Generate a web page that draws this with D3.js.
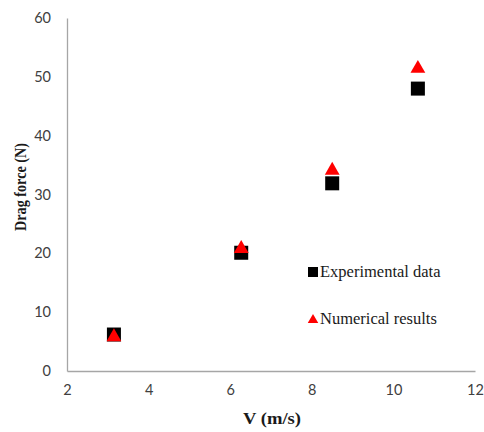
<!DOCTYPE html>
<html>
<head>
<meta charset="utf-8">
<script src="https://cdn.jsdelivr.net/npm/d3@7"></script>
<style>
  html, body { margin: 0; padding: 0; background: #fff; }
  svg { display: block; }
</style>
</head>
<body>
<svg id="chart" width="484" height="432"></svg>
<script>
// Wind-tunnel drag measurements vs. CFD predictions
const velocity = [3.15, 6.27, 8.5, 10.6];
const experimental = [6.2, 20.1, 31.9, 48.0];
const numerical = [5.8, 20.8, 34.1, 51.4];
const xTicks = [2, 4, 6, 8, 10, 12];
const yTicks = [0, 10, 20, 30, 40, 50, 60];
const seriesNames = ["Experimental data", "Numerical results"];

const svg = d3.select("#chart");
const plotLeft = 67, plotRight = 475, plotTop = 18, plotBottom = 371;

const x = d3.scaleLinear().domain([2, 12]).range([plotLeft, plotRight]);
const y = d3.scaleLinear().domain([0, 60]).range([plotBottom, plotTop]);

const tickFont = "Lato, 'Open Sans', sans-serif";
const serif = "'Liberation Serif', 'DejaVu Serif', serif";

// axes: plain grey lines, no tick marks
const xAxis = svg.append("g")
  .attr("transform", `translate(0,${plotBottom})`)
  .call(d3.axisBottom(x).tickValues(xTicks).tickSize(0).tickPadding(14).tickFormat(d3.format("d")));
const yAxis = svg.append("g")
  .attr("transform", `translate(${plotLeft},0)`)
  .call(d3.axisLeft(y).tickValues(yTicks).tickSize(0).tickPadding(16).tickFormat(d3.format("d")));

[xAxis, yAxis].forEach(g => {
  g.select(".domain").attr("stroke", "#a6a6a6").attr("stroke-width", 1.3);
  g.selectAll("text")
    .attr("fill", "#404040")
    .style("font-family", tickFont)
    .style("font-size", "14.5px");
});

// axis titles
svg.append("text")
  .attr("x", 272)
  .attr("y", 424)
  .attr("text-anchor", "middle")
  .attr("textLength", 58)
  .attr("lengthAdjust", "spacingAndGlyphs")
  .style("font-family", serif)
  .style("font-weight", "bold")
  .style("font-size", "17px")
  .attr("fill", "#1a1a1a")
  .text("V (m/s)");

svg.append("text")
  .attr("transform", `translate(26,187) rotate(-90)`)
  .attr("text-anchor", "middle")
  .attr("textLength", 88)
  .attr("lengthAdjust", "spacingAndGlyphs")
  .style("font-family", serif)
  .style("font-weight", "bold")
  .style("font-size", "17px")
  .attr("fill", "#1a1a1a")
  .text("Drag force (N)");

// experimental points: black squares
const sq = 14;
svg.append("g").selectAll("rect")
  .data(velocity.map((v, i) => [v, experimental[i]]))
  .join("rect")
  .attr("x", d => x(d[0]) - sq / 2)
  .attr("y", d => y(d[1]) - sq / 2)
  .attr("width", sq)
  .attr("height", sq)
  .attr("fill", "#000");

// numerical points: red triangles
const tri = d3.symbol().type(d3.symbolTriangle).size(95);
svg.append("g").selectAll("path")
  .data(velocity.map((v, i) => [v, numerical[i]]))
  .join("path")
  .attr("transform", d => `translate(${x(d[0])},${y(d[1])})`)
  .attr("d", tri)
  .attr("fill", "#ff0000");

// legend
const legend = svg.append("g");
legend.append("rect")
  .attr("x", 308).attr("y", 267).attr("width", 10).attr("height", 10)
  .attr("fill", "#000");
legend.append("path")
  .attr("transform", "translate(313,320)")
  .attr("d", d3.symbol().type(d3.symbolTriangle).size(48))
  .attr("fill", "#ff0000");
legend.selectAll("text")
  .data(seriesNames)
  .join("text")
  .attr("x", 320)
  .attr("y", (d, i) => 277 + i * 47)
  .style("font-family", serif)
  .style("font-size", "16.5px")
  .attr("fill", "#1a1a1a")
  .text(d => d);
</script>
</body>
</html>
